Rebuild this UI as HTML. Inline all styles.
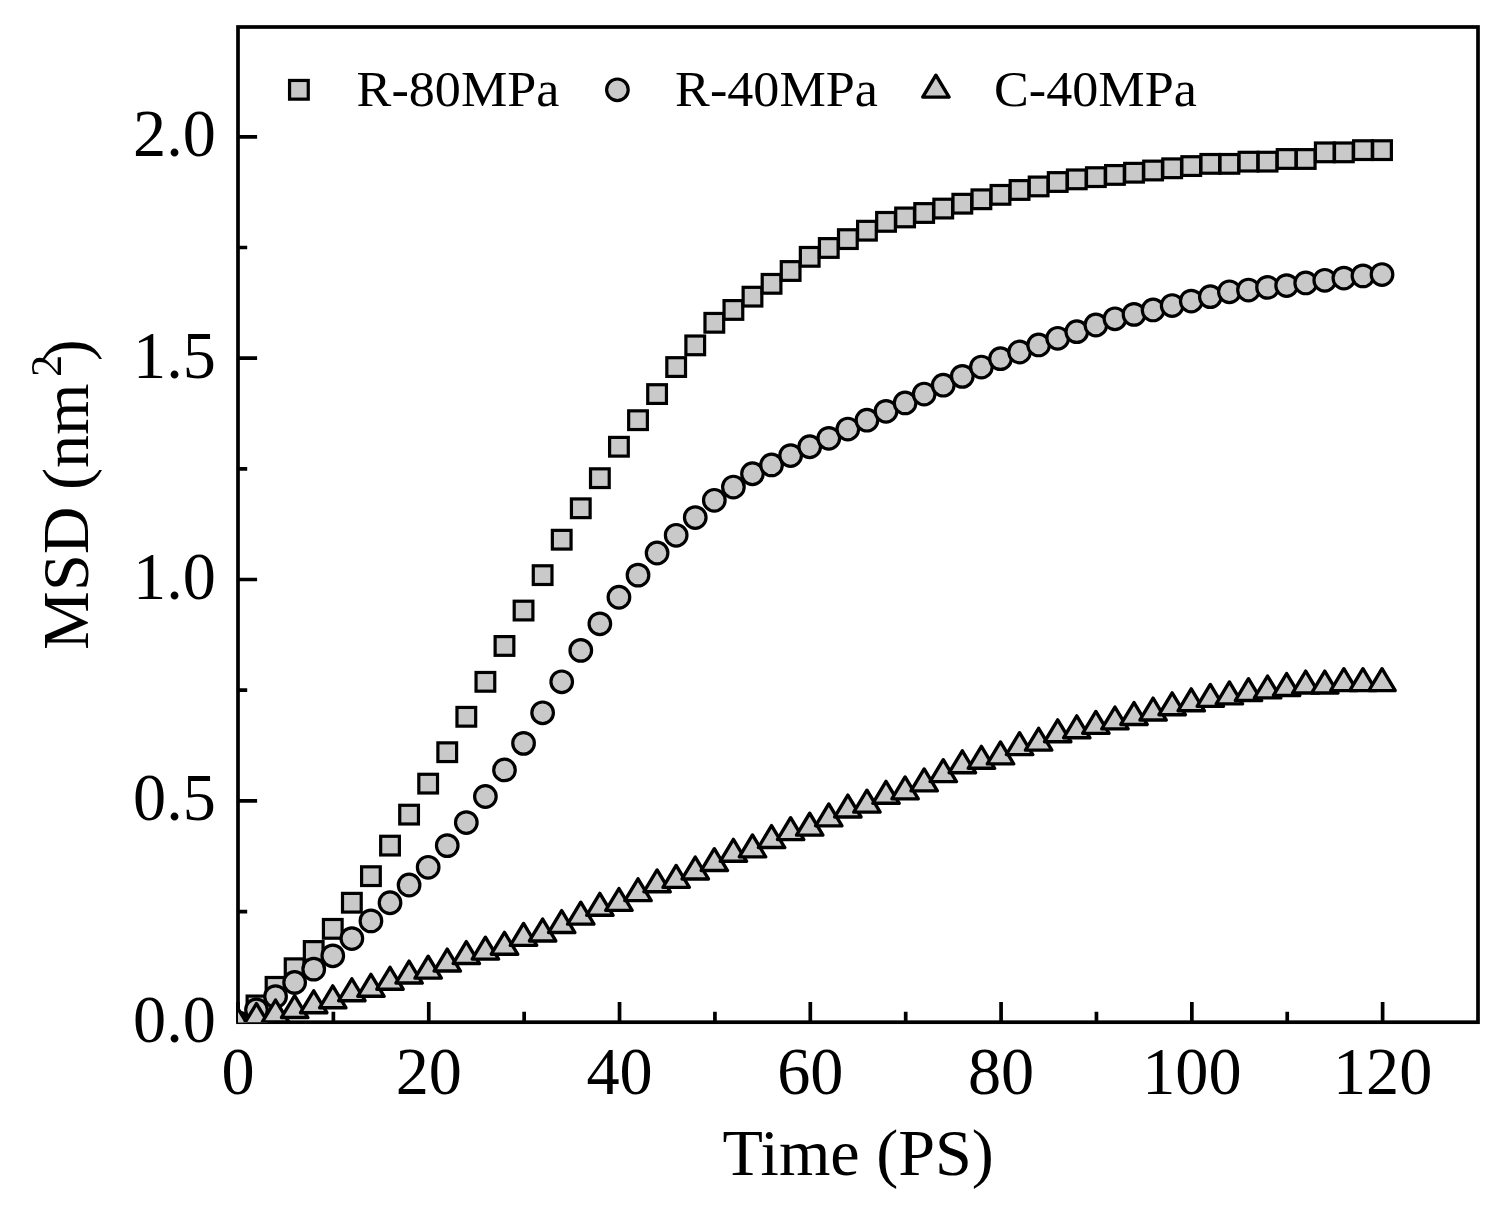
<!DOCTYPE html>
<html lang="en"><head><meta charset="utf-8"><title>MSD vs Time</title>
<style>
html,body{margin:0;padding:0;background:#fff;}
body{width:1505px;height:1207px;overflow:hidden;}
svg{display:block;}
text{font-family:"Liberation Serif",serif;fill:#000;}
.tick{font-size:67.3px;}
.ttl{font-size:65.4px;}
.leg{font-size:50.5px;}
.sup{font-size:44px;}
.mk{fill:#c9c9c9;stroke:#000;stroke-width:3.2;stroke-linejoin:round;}
.tri{fill:#c9c9c9;stroke:#000;stroke-width:3.4;stroke-linejoin:round;}
.sqm{fill:#c9c9c9;stroke:#000;stroke-width:3.2;stroke-linejoin:miter;}
.ax{stroke:#000;stroke-width:3.7;fill:none;stroke-linecap:butt;}
</style></head><body>
<svg width="1505" height="1207" viewBox="0 0 1505 1207">
<rect x="0" y="0" width="1505" height="1207" fill="#fff"/>
<defs><clipPath id="pc"><rect x="238.0" y="27.0" width="1240.0" height="995.2"/></clipPath></defs>
<path class="ax" d="M238.00 1022.2v-20.2M333.38 1022.2v-10.4M428.77 1022.2v-20.2M524.15 1022.2v-10.4M619.54 1022.2v-20.2M714.92 1022.2v-10.4M810.31 1022.2v-20.2M905.69 1022.2v-10.4M1001.08 1022.2v-20.2M1096.46 1022.2v-10.4M1191.85 1022.2v-20.2M1287.23 1022.2v-10.4M1382.62 1022.2v-20.2M238.0 1022.20h19.1M238.0 911.53h9.2M238.0 800.85h19.1M238.0 690.18h9.2M238.0 579.50h19.1M238.0 468.83h9.2M238.0 358.15h19.1M238.0 247.48h9.2M238.0 136.80h19.1"/>
<rect class="ax" x="238.0" y="27.0" width="1240.0" height="995.2" stroke-linejoin="miter"/>
<g clip-path="url(#pc)">
<g class="sqm"><rect x="228.05" y="1013.35" width="18.7" height="18.7"/><rect x="247.13" y="996.08" width="18.7" height="18.7"/><rect x="266.20" y="977.49" width="18.7" height="18.7"/><rect x="285.28" y="958.90" width="18.7" height="18.7"/><rect x="304.36" y="941.63" width="18.7" height="18.7"/><rect x="323.43" y="919.50" width="18.7" height="18.7"/><rect x="342.51" y="893.38" width="18.7" height="18.7"/><rect x="361.59" y="866.82" width="18.7" height="18.7"/><rect x="380.67" y="836.27" width="18.7" height="18.7"/><rect x="399.74" y="805.28" width="18.7" height="18.7"/><rect x="418.82" y="774.29" width="18.7" height="18.7"/><rect x="437.90" y="742.86" width="18.7" height="18.7"/><rect x="456.97" y="707.44" width="18.7" height="18.7"/><rect x="476.05" y="672.47" width="18.7" height="18.7"/><rect x="495.13" y="636.61" width="18.7" height="18.7"/><rect x="514.20" y="601.20" width="18.7" height="18.7"/><rect x="533.28" y="565.78" width="18.7" height="18.7"/><rect x="552.36" y="530.36" width="18.7" height="18.7"/><rect x="571.43" y="498.93" width="18.7" height="18.7"/><rect x="590.51" y="468.83" width="18.7" height="18.7"/><rect x="609.59" y="437.40" width="18.7" height="18.7"/><rect x="628.67" y="410.84" width="18.7" height="18.7"/><rect x="647.74" y="384.72" width="18.7" height="18.7"/><rect x="666.82" y="357.71" width="18.7" height="18.7"/><rect x="685.90" y="336.02" width="18.7" height="18.7"/><rect x="704.97" y="313.44" width="18.7" height="18.7"/><rect x="724.05" y="300.60" width="18.7" height="18.7"/><rect x="743.13" y="287.32" width="18.7" height="18.7"/><rect x="762.20" y="274.48" width="18.7" height="18.7"/><rect x="781.28" y="261.65" width="18.7" height="18.7"/><rect x="800.36" y="247.48" width="18.7" height="18.7"/><rect x="819.43" y="238.63" width="18.7" height="18.7"/><rect x="838.51" y="229.77" width="18.7" height="18.7"/><rect x="857.59" y="221.36" width="18.7" height="18.7"/><rect x="876.67" y="212.51" width="18.7" height="18.7"/><rect x="895.74" y="208.08" width="18.7" height="18.7"/><rect x="914.82" y="203.65" width="18.7" height="18.7"/><rect x="933.90" y="199.22" width="18.7" height="18.7"/><rect x="952.97" y="194.36" width="18.7" height="18.7"/><rect x="972.05" y="189.93" width="18.7" height="18.7"/><rect x="991.13" y="185.50" width="18.7" height="18.7"/><rect x="1010.20" y="180.63" width="18.7" height="18.7"/><rect x="1029.28" y="177.09" width="18.7" height="18.7"/><rect x="1048.36" y="172.66" width="18.7" height="18.7"/><rect x="1067.43" y="170.01" width="18.7" height="18.7"/><rect x="1086.51" y="167.79" width="18.7" height="18.7"/><rect x="1105.59" y="165.58" width="18.7" height="18.7"/><rect x="1124.67" y="163.37" width="18.7" height="18.7"/><rect x="1143.74" y="161.15" width="18.7" height="18.7"/><rect x="1162.82" y="158.94" width="18.7" height="18.7"/><rect x="1181.90" y="156.73" width="18.7" height="18.7"/><rect x="1200.97" y="154.51" width="18.7" height="18.7"/><rect x="1220.05" y="154.51" width="18.7" height="18.7"/><rect x="1239.13" y="152.30" width="18.7" height="18.7"/><rect x="1258.20" y="152.30" width="18.7" height="18.7"/><rect x="1277.28" y="149.64" width="18.7" height="18.7"/><rect x="1296.36" y="149.64" width="18.7" height="18.7"/><rect x="1315.43" y="143.00" width="18.7" height="18.7"/><rect x="1334.51" y="143.00" width="18.7" height="18.7"/><rect x="1353.59" y="140.79" width="18.7" height="18.7"/><rect x="1372.67" y="140.79" width="18.7" height="18.7"/></g>
<g class="mk"><circle cx="237.40" cy="1022.70" r="10.8"/><circle cx="256.48" cy="1009.86" r="10.8"/><circle cx="275.55" cy="996.58" r="10.8"/><circle cx="294.63" cy="982.41" r="10.8"/><circle cx="313.71" cy="969.13" r="10.8"/><circle cx="332.78" cy="955.85" r="10.8"/><circle cx="351.86" cy="938.59" r="10.8"/><circle cx="370.94" cy="920.88" r="10.8"/><circle cx="390.02" cy="902.73" r="10.8"/><circle cx="409.09" cy="885.02" r="10.8"/><circle cx="428.17" cy="867.31" r="10.8"/><circle cx="447.25" cy="845.62" r="10.8"/><circle cx="466.32" cy="822.60" r="10.8"/><circle cx="485.40" cy="796.48" r="10.8"/><circle cx="504.48" cy="769.92" r="10.8"/><circle cx="523.55" cy="743.36" r="10.8"/><circle cx="542.63" cy="712.81" r="10.8"/><circle cx="561.71" cy="681.82" r="10.8"/><circle cx="580.78" cy="650.39" r="10.8"/><circle cx="599.86" cy="623.83" r="10.8"/><circle cx="618.94" cy="597.27" r="10.8"/><circle cx="638.02" cy="575.13" r="10.8"/><circle cx="657.09" cy="553.00" r="10.8"/><circle cx="676.17" cy="535.29" r="10.8"/><circle cx="695.25" cy="517.58" r="10.8"/><circle cx="714.32" cy="500.31" r="10.8"/><circle cx="733.40" cy="487.03" r="10.8"/><circle cx="752.48" cy="473.75" r="10.8"/><circle cx="771.55" cy="464.90" r="10.8"/><circle cx="790.63" cy="455.60" r="10.8"/><circle cx="809.71" cy="446.75" r="10.8"/><circle cx="828.78" cy="438.34" r="10.8"/><circle cx="847.86" cy="429.04" r="10.8"/><circle cx="866.94" cy="420.19" r="10.8"/><circle cx="886.02" cy="411.33" r="10.8"/><circle cx="905.09" cy="402.92" r="10.8"/><circle cx="924.17" cy="394.07" r="10.8"/><circle cx="943.25" cy="385.21" r="10.8"/><circle cx="962.32" cy="376.36" r="10.8"/><circle cx="981.40" cy="367.06" r="10.8"/><circle cx="1000.48" cy="358.65" r="10.8"/><circle cx="1019.55" cy="352.01" r="10.8"/><circle cx="1038.63" cy="344.93" r="10.8"/><circle cx="1057.71" cy="338.29" r="10.8"/><circle cx="1076.78" cy="331.65" r="10.8"/><circle cx="1095.86" cy="325.00" r="10.8"/><circle cx="1114.94" cy="318.81" r="10.8"/><circle cx="1134.02" cy="314.38" r="10.8"/><circle cx="1153.09" cy="309.95" r="10.8"/><circle cx="1172.17" cy="305.53" r="10.8"/><circle cx="1191.25" cy="301.10" r="10.8"/><circle cx="1210.32" cy="296.67" r="10.8"/><circle cx="1229.40" cy="291.80" r="10.8"/><circle cx="1248.48" cy="290.03" r="10.8"/><circle cx="1267.55" cy="287.38" r="10.8"/><circle cx="1286.63" cy="285.60" r="10.8"/><circle cx="1305.71" cy="282.95" r="10.8"/><circle cx="1324.78" cy="280.29" r="10.8"/><circle cx="1343.86" cy="278.08" r="10.8"/><circle cx="1362.94" cy="275.87" r="10.8"/><circle cx="1382.02" cy="274.54" r="10.8"/></g>
<g class="tri"><path d="M237.40 1007.60L250.60 1029.50L224.20 1029.50Z"/><path d="M256.48 1003.62L269.68 1025.52L243.28 1025.52Z"/><path d="M275.55 1000.07L288.75 1021.97L262.35 1021.97Z"/><path d="M294.63 995.65L307.83 1017.55L281.43 1017.55Z"/><path d="M313.71 990.78L326.91 1012.68L300.51 1012.68Z"/><path d="M332.78 985.91L345.98 1007.81L319.58 1007.81Z"/><path d="M351.86 978.82L365.06 1000.72L338.66 1000.72Z"/><path d="M370.94 974.40L384.14 996.30L357.74 996.30Z"/><path d="M390.02 967.31L403.22 989.21L376.82 989.21Z"/><path d="M409.09 961.12L422.29 983.02L395.89 983.02Z"/><path d="M428.17 956.25L441.37 978.15L414.97 978.15Z"/><path d="M447.25 949.16L460.45 971.06L434.05 971.06Z"/><path d="M466.32 941.64L479.52 963.54L453.12 963.54Z"/><path d="M485.40 937.21L498.60 959.11L472.20 959.11Z"/><path d="M504.48 932.34L517.68 954.24L491.28 954.24Z"/><path d="M523.55 923.49L536.75 945.39L510.35 945.39Z"/><path d="M542.63 919.06L555.83 940.96L529.43 940.96Z"/><path d="M561.71 910.65L574.91 932.55L548.51 932.55Z"/><path d="M580.78 902.24L593.98 924.14L567.58 924.14Z"/><path d="M599.86 893.38L613.06 915.28L586.66 915.28Z"/><path d="M618.94 888.51L632.14 910.41L605.74 910.41Z"/><path d="M638.02 878.77L651.22 900.67L624.82 900.67Z"/><path d="M657.09 869.92L670.29 891.82L643.89 891.82Z"/><path d="M676.17 865.49L689.37 887.39L662.97 887.39Z"/><path d="M695.25 857.08L708.45 878.98L682.05 878.98Z"/><path d="M714.32 848.67L727.52 870.57L701.12 870.57Z"/><path d="M733.40 839.37L746.60 861.27L720.20 861.27Z"/><path d="M752.48 834.95L765.68 856.85L739.28 856.85Z"/><path d="M771.55 825.65L784.75 847.55L758.35 847.55Z"/><path d="M790.63 817.68L803.83 839.58L777.43 839.58Z"/><path d="M809.71 813.25L822.91 835.15L796.51 835.15Z"/><path d="M828.78 803.96L841.98 825.86L815.58 825.86Z"/><path d="M847.86 795.10L861.06 817.00L834.66 817.00Z"/><path d="M866.94 790.23L880.14 812.13L853.74 812.13Z"/><path d="M886.02 781.38L899.22 803.28L872.82 803.28Z"/><path d="M905.09 776.95L918.29 798.85L891.89 798.85Z"/><path d="M924.17 768.98L937.37 790.88L910.97 790.88Z"/><path d="M943.25 759.69L956.45 781.59L930.05 781.59Z"/><path d="M962.32 750.83L975.52 772.73L949.12 772.73Z"/><path d="M981.40 746.41L994.60 768.31L968.20 768.31Z"/><path d="M1000.48 741.98L1013.68 763.88L987.28 763.88Z"/><path d="M1019.55 732.68L1032.75 754.58L1006.35 754.58Z"/><path d="M1038.63 728.26L1051.83 750.16L1025.43 750.16Z"/><path d="M1057.71 719.85L1070.91 741.75L1044.51 741.75Z"/><path d="M1076.78 715.86L1089.98 737.76L1063.58 737.76Z"/><path d="M1095.86 711.43L1109.06 733.33L1082.66 733.33Z"/><path d="M1114.94 707.01L1128.14 728.91L1101.74 728.91Z"/><path d="M1134.02 702.58L1147.22 724.48L1120.82 724.48Z"/><path d="M1153.09 698.15L1166.29 720.05L1139.89 720.05Z"/><path d="M1172.17 692.84L1185.37 714.74L1158.97 714.74Z"/><path d="M1191.25 688.86L1204.45 710.76L1178.05 710.76Z"/><path d="M1210.32 684.43L1223.52 706.33L1197.12 706.33Z"/><path d="M1229.40 681.99L1242.60 703.89L1216.20 703.89Z"/><path d="M1248.48 678.67L1261.68 700.57L1235.28 700.57Z"/><path d="M1267.55 676.02L1280.75 697.92L1254.35 697.92Z"/><path d="M1286.63 673.58L1299.83 695.48L1273.43 695.48Z"/><path d="M1305.71 671.15L1318.91 693.05L1292.51 693.05Z"/><path d="M1324.78 671.15L1337.98 693.05L1311.58 693.05Z"/><path d="M1343.86 668.71L1357.06 690.61L1330.66 690.61Z"/><path d="M1362.94 668.71L1376.14 690.61L1349.74 690.61Z"/><path d="M1382.02 668.71L1395.22 690.61L1368.82 690.61Z"/></g>
</g>
<text class="tick" transform="translate(238.00 1093.80) scale(0.9850 1)" text-anchor="middle">0</text>
<text class="tick" transform="translate(428.77 1093.80) scale(0.9850 1)" text-anchor="middle">20</text>
<text class="tick" transform="translate(619.54 1093.80) scale(0.9850 1)" text-anchor="middle">40</text>
<text class="tick" transform="translate(810.31 1093.80) scale(0.9850 1)" text-anchor="middle">60</text>
<text class="tick" transform="translate(1001.08 1093.80) scale(0.9850 1)" text-anchor="middle">80</text>
<text class="tick" transform="translate(1191.85 1093.80) scale(0.9850 1)" text-anchor="middle">100</text>
<text class="tick" transform="translate(1382.62 1093.80) scale(0.9850 1)" text-anchor="middle">120</text>
<text class="tick" transform="translate(215.90 1041.80) scale(0.9850 1)" text-anchor="end">0.0</text>
<text class="tick" transform="translate(215.90 820.45) scale(0.9850 1)" text-anchor="end">0.5</text>
<text class="tick" transform="translate(215.90 599.10) scale(0.9850 1)" text-anchor="end">1.0</text>
<text class="tick" transform="translate(215.90 377.75) scale(0.9850 1)" text-anchor="end">1.5</text>
<text class="tick" transform="translate(215.90 156.40) scale(0.9850 1)" text-anchor="end">2.0</text>
<text class="ttl" transform="translate(858.10 1174.80) scale(1.0110 1)" text-anchor="middle">Time (PS)</text>
<text class="ttl" transform="translate(87.80 494.60) rotate(-90) scale(1.0110 1)" text-anchor="middle">MSD (nm<tspan class="sup" dx="6.5" dy="-27">2</tspan><tspan dx="-6.5" dy="27">)</tspan></text>
<g class="sqm"><rect x="289.55" y="80.45" width="18.7" height="18.7"/></g>
<g class="mk"><circle cx="617.40" cy="89.80" r="10.8"/></g><g class="tri"><path d="M935.90 75.20L949.10 97.10L922.70 97.10Z"/></g>
<text class="leg" transform="translate(356.60 106.40) scale(1.0330 1)" text-anchor="start">R-80MPa</text>
<text class="leg" transform="translate(675.10 106.40) scale(1.0330 1)" text-anchor="start">R-40MPa</text>
<text class="leg" transform="translate(994.00 106.40) scale(1.0330 1)" text-anchor="start">C-40MPa</text>
</svg>
</body></html>
